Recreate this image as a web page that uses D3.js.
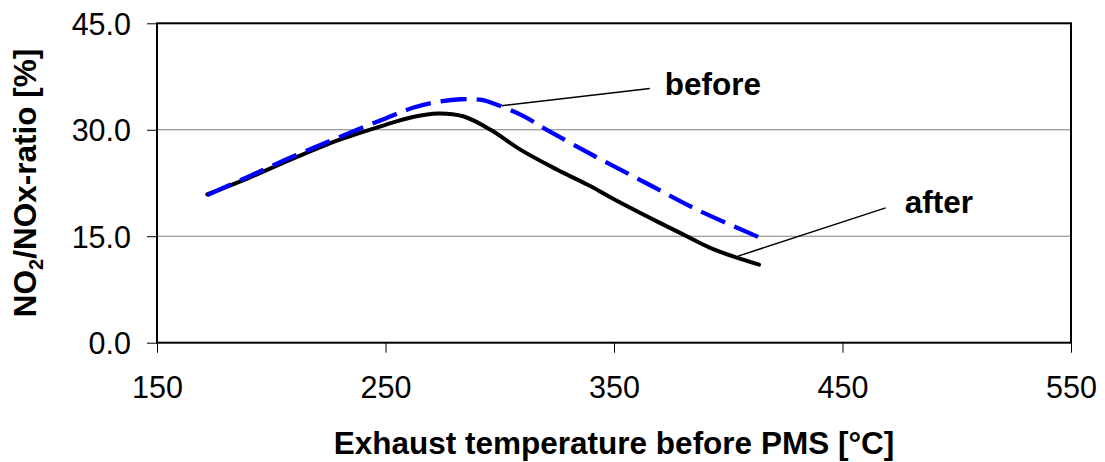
<!DOCTYPE html>
<html>
<head>
<meta charset="utf-8">
<script src="https://cdn.jsdelivr.net/npm/d3@7"></script>
<style>
  html, body { margin: 0; padding: 0; background: #fff; }
  svg { display: block; font-family: Arial, "Liberation Sans", sans-serif; }
</style>
</head>
<body>
<svg id="chart" width="1105" height="462"></svg>
<script>
// ---- data ----
const afterTemp  = [172, 190, 210, 230, 250, 262, 273, 284, 296, 309, 325, 340, 350, 365, 380, 394, 413.5];
const afterNO2   = [20.9, 23.2, 26.0, 28.6, 30.7, 31.8, 32.3, 31.9, 30.0, 27.2, 24.4, 22.0, 20.2, 17.7, 15.3, 13.1, 11.0];
const beforeTemp = [172, 190, 210, 230, 250, 262, 272, 283, 292, 299, 310, 320, 342, 364, 386, 414.6];
const beforeNO2  = [20.8, 23.4, 26.3, 29.0, 31.6, 33.1, 33.9, 34.3, 34.2, 33.5, 32.0, 30.1, 26.2, 22.5, 18.8, 14.7];
const xTicks = [150, 250, 350, 450, 550];
const yTicks = [0, 15, 30, 45];
const annotations = [
  { label: "before", from: [300.8, 33.4], to: [365.7, 35.8], text: [372.2, 34.9] },
  { label: "after",  from: [404.3, 12.2], to: [468.9, 19.0], text: [477.2, 18.3] }
];
const xTitle = "Exhaust temperature before PMS [°C]";

// ---- layout ----
const svg = d3.select("#chart");
const margin = { left: 157, right: 34, top: 23.3, bottom: 119.3 };
const W = 1105, H = 462;
const x = d3.scaleLinear().domain([150, 550]).range([margin.left, W - margin.right]);
const y = d3.scaleLinear().domain([0, 45]).range([H - margin.bottom, margin.top]);
const FONT = 'Arial, "Liberation Sans", sans-serif';

// gridlines
svg.append("g").selectAll("line").data(yTicks.filter(t => t > 0 && t < 45)).join("line")
  .attr("x1", x(150)).attr("x2", x(550))
  .attr("y1", d => y(d)).attr("y2", d => y(d))
  .attr("stroke", "#808080").attr("stroke-width", 1.2);

// frame
svg.append("rect")
  .attr("x", x(150)).attr("y", y(45))
  .attr("width", x(550) - x(150)).attr("height", y(0) - y(45))
  .attr("fill", "none").attr("stroke", "#000").attr("stroke-width", 2);

// axes
const yAxis = d3.axisLeft(y).tickValues(yTicks).tickFormat(d3.format(".1f")).tickSize(10).tickPadding(16);
const gy = svg.append("g").attr("transform", `translate(${x(150)},0)`).call(yAxis);
const xAxis = d3.axisBottom(x).tickValues(xTicks).tickFormat(d3.format("d")).tickSize(10).tickPadding(24);
const gx = svg.append("g").attr("transform", `translate(0,${y(0)})`).call(xAxis);
[gx, gy].forEach(g => {
  g.select(".domain").remove();
  g.selectAll(".tick line").attr("stroke", "#000").attr("stroke-width", 1);
  g.selectAll(".tick text").attr("fill", "#000").style("font-size", "30.5px").style("font-family", FONT);
});
gx.selectAll(".tick text").attr("dy", "0.71em");
gy.selectAll(".tick text").attr("dy", "0.36em");

// lines
const line = d3.line().x(d => x(d[0])).y(d => y(d[1])).curve(d3.curveCatmullRom.alpha(0.5));
svg.append("path").datum(d3.zip(afterTemp, afterNO2))
  .attr("d", line).attr("fill", "none").attr("stroke", "#000")
  .attr("stroke-width", 4).attr("stroke-linecap", "round").attr("stroke-linejoin", "round");
svg.append("path").datum(d3.zip(beforeTemp, beforeNO2))
  .attr("d", line).attr("fill", "none").attr("stroke", "#0000ff")
  .attr("stroke-width", 4.3).attr("stroke-dasharray", "26 10");

// annotations
const ann = svg.append("g");
ann.selectAll("line").data(annotations).join("line")
  .attr("x1", d => x(d.from[0])).attr("y1", d => y(d.from[1]))
  .attr("x2", d => x(d.to[0])).attr("y2", d => y(d.to[1]))
  .attr("stroke", "#000").attr("stroke-width", 1.5);
ann.selectAll("text").data(annotations).join("text")
  .attr("x", d => x(d.text[0])).attr("y", d => y(d.text[1]))
  .attr("font-weight", "bold").attr("font-size", 31.5).text(d => d.label);

// axis titles
svg.append("text")
  .attr("x", (x(150) + x(550)) / 2).attr("y", 454)
  .attr("text-anchor", "middle").attr("font-weight", "bold").attr("font-size", 31.5)
  .text(xTitle);
const yt = svg.append("text")
  .attr("transform", `translate(36,${(y(0) + y(45)) / 2}) rotate(-90)`)
  .attr("text-anchor", "middle").attr("font-weight", "bold").attr("font-size", 31.5);
yt.append("tspan").text("NO");
yt.append("tspan").attr("font-size", 20).attr("dy", 7).text("2");
yt.append("tspan").attr("dy", -7).text("/NOx-ratio [%]");
</script>
</body>
</html>
